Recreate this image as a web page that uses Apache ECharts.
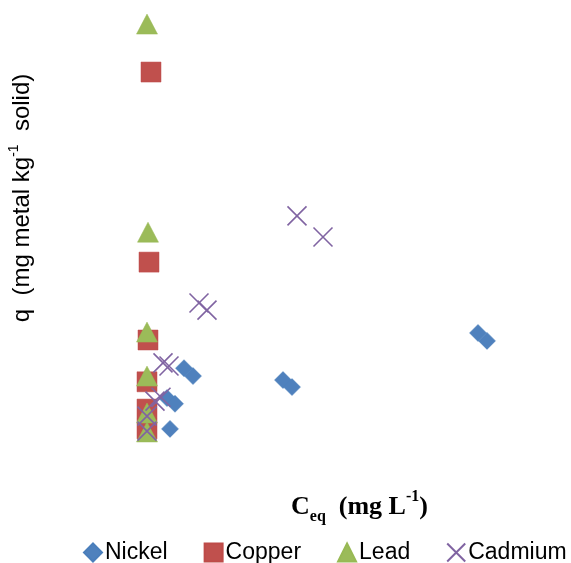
<!DOCTYPE html>
<html>
<head>
<meta charset="utf-8">
<script src="https://cdn.jsdelivr.net/npm/echarts@6/dist/echarts.min.js"></script>
<style>html,body{margin:0;padding:0;background:#fff;}#c{width:571px;height:563px;}</style>
</head>
<body>
<div id="c"></div>
<script>
// Ceq (x) and q (y) values, arbitrary relative units
const nickelX = [5.75, 5, 7, 9.25, 11.5, 34, 36.25, 82.75, 85];
const nickelY = [4.8, 11.8, 10.5, 18.6, 16.8, 15.9, 14.3, 26.6, 24.8];
const copperX = [1, 0.5, 0.25, 0, 0, 0];
const copperY = [85.9, 42.7, 25, 15.5, 9.3, 4.8];
const leadX = [0, 0.25, 0, 0, 0, 0];
const leadY = [96.8, 49.5, 26.8, 16.8, 8.4, 4.1];
const cadmiumX = [37.5, 44, 13, 15, 4, 5.5, 2, 3.5, 0, 0];
const cadmiumY = [53.2, 48.4, 33.4, 31.8, 19.8, 19.1, 11.1, 12, 7.7, 4.3];
const seriesNames = ['Nickel', 'Copper', 'Lead', 'Cadmium'];

const zip = (xs, ys) => xs.map((x, i) => [x, ys[i]]);
const crossPath = 'path://M0,0L10,10M10,0L0,10';

const chart = echarts.init(document.getElementById('c'));
chart.setOption({
  animation: false,
  backgroundColor: '#fff',
  grid: { left: 139, right: 24, top: 10, bottom: 113 },
  xAxis: { type: 'value', min: -2, max: 100, show: false },
  yAxis: { type: 'value', min: 0, max: 100, show: false },
  legend: {
    left: 83, top: 541, width: 488, padding: 0, itemGap: 36, itemWidth: 18, itemHeight: 18,
    textStyle: { fontSize: 23, fontFamily: 'Liberation Sans', color: '#000', padding: [0, 0, 0, -2] },
    data: seriesNames
  },
  graphic: [
    {
      type: 'text', left: 291, top: 489,
      style: {
        text: '{a|C}{sub|eq}{a|  (mg L}{sup|-1}{a|)}',
        rich: {
          a: { fontFamily: 'Liberation Serif', fontWeight: 'bold', fontSize: 26, fill: '#000', verticalAlign: 'middle', lineHeight: 36 },
          sub: { fontFamily: 'Liberation Serif', fontWeight: 'bold', fontSize: 16, fill: '#000', verticalAlign: 'bottom', lineHeight: 16 },
          sup: { fontFamily: 'Liberation Serif', fontWeight: 'bold', fontSize: 16, fill: '#000', verticalAlign: 'top', lineHeight: 16 }
        }
      }
    },
    {
      type: 'text', x: 22, y: 198, rotation: Math.PI / 2,
      style: {
        text: '{a|q  (mg metal kg}{sup|-1}{a|  solid)}',
        align: 'center', verticalAlign: 'middle',
        rich: {
          a: { fontFamily: 'Liberation Sans', fontSize: 24, fill: '#000', verticalAlign: 'middle', lineHeight: 30 },
          sup: { fontFamily: 'Liberation Sans', fontSize: 14, fill: '#000', verticalAlign: 'top', lineHeight: 14 }
        }
      }
    }
  ],
  series: [
    { name: 'Nickel', type: 'scatter', symbol: 'diamond', symbolSize: 17,
      itemStyle: { color: '#4F81BD', borderColor: '#4A7EBB', borderWidth: 0.5, opacity: 1 },
      data: zip(nickelX, nickelY) },
    { name: 'Copper', type: 'scatter', symbol: 'rect', symbolSize: 20,
      itemStyle: { color: '#C0504D', borderColor: '#BE4B48', borderWidth: 0.5, opacity: 1 },
      data: zip(copperX, copperY) },
    { name: 'Lead', type: 'scatter', symbol: 'triangle', symbolSize: [21, 20],
      itemStyle: { color: '#9BBB59', borderColor: '#98B954', borderWidth: 0.5, opacity: 1 },
      data: zip(leadX, leadY) },
    { name: 'Cadmium', type: 'scatter', symbol: crossPath, symbolSize: 19,
      itemStyle: { color: 'rgba(0,0,0,0)', borderColor: '#8064A2', borderWidth: 1.6, opacity: 1 },
      data: zip(cadmiumX, cadmiumY) }
  ]
});
</script>
</body>
</html>
